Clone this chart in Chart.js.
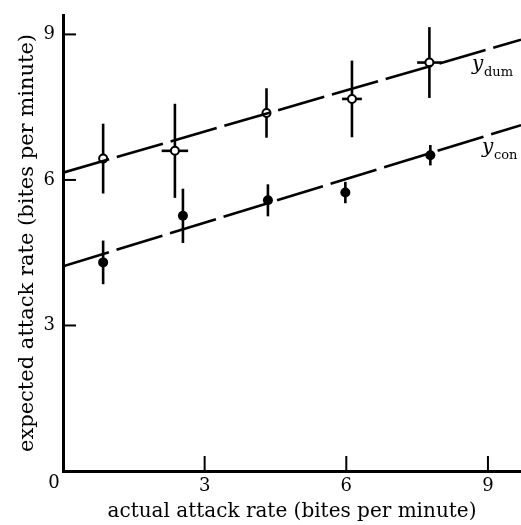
<!DOCTYPE html>
<html>
<head>
<meta charset="utf-8">
<script src="https://cdn.jsdelivr.net/npm/chart.js@4"></script>
<style>
  html, body { margin: 0; padding: 0; background: #fff; overflow: hidden; }
  #wrap { width: 521px; height: 525px; }
  #chart { display: block; }
</style>
</head>
<body>
<div id="wrap"><canvas id="chart" width="521" height="525"></canvas></div>
<script>
// Values
const xTicks = [3, 6, 9];
const yTicks = [3, 6, 9];

// dummy (open circles)
const dumX = [0.85, 2.37, 4.31, 6.12, 7.76];
const dumY = [6.44, 6.60, 7.38, 7.67, 8.42];
const dumYErr = [0.72, 0.97, 0.51, 0.79, 0.73];
const dumXErr = [0, 0.28, 0, 0.21, 0.26];

// control (filled circles)
const conX = [0.85, 2.54, 4.34, 5.98, 7.78];
const conY = [4.30, 5.26, 5.58, 5.74, 6.51];
const conYErr = [0.45, 0.56, 0.33, 0.22, 0.21];

// fitted lines, end points as drawn
const dumLineX = [0, 9.7];
const dumLineY = [6.15, 8.89];
const conLineX = [0, 9.7];
const conLineY = [4.22, 7.13];

const FONT = "'DejaVu Serif', 'Liberation Serif', serif";

function pts(xs, ys) {
    return xs.map((x, i) => ({ x: x, y: ys[i] }));
}

// error bars, inward tick marks, the origin label and line labels
const extras = {
    id: 'extras',
    beforeDatasetsDraw(chart) {
        const ctx = chart.ctx;
        const xs = chart.scales.x;
        const ys = chart.scales.y;
        ctx.save();
        ctx.strokeStyle = '#000';
        ctx.lineWidth = 2.6;
        ctx.lineCap = 'butt';
        const bars = [[dumX, dumY, dumYErr, dumXErr], [conX, conY, conYErr, null]];
        bars.forEach(([bx, by, ye, xe]) => {
            bx.forEach((x, i) => {
                const px = xs.getPixelForValue(x);
                ctx.beginPath();
                ctx.moveTo(px, ys.getPixelForValue(by[i] + ye[i]));
                ctx.lineTo(px, ys.getPixelForValue(by[i] - ye[i]));
                ctx.stroke();
                if (xe && xe[i] > 0) {
                    const py = ys.getPixelForValue(by[i]);
                    ctx.beginPath();
                    ctx.moveTo(xs.getPixelForValue(x - xe[i]), py);
                    ctx.lineTo(xs.getPixelForValue(x + xe[i]), py);
                    ctx.stroke();
                }
            });
        });

        // tick marks pointing into the plot
        ctx.lineWidth = 2;
        const y0 = ys.getPixelForValue(0);
        xTicks.forEach(v => {
            const px = xs.getPixelForValue(v);
            ctx.beginPath();
            ctx.moveTo(px, y0);
            ctx.lineTo(px, y0 - 15);
            ctx.stroke();
        });
        const x0 = xs.getPixelForValue(0);
        yTicks.forEach(v => {
            const py = ys.getPixelForValue(v);
            ctx.beginPath();
            ctx.moveTo(x0, py);
            ctx.lineTo(x0 + 13, py);
            ctx.stroke();
        });

        ctx.fillStyle = '#000';
        ctx.font = '18px ' + FONT;
        ctx.textAlign = 'center';
        ctx.textBaseline = 'top';
        ctx.fillText('0', x0 - 9, y0 + 3);

        // line labels
        ctx.textAlign = 'left';
        ctx.textBaseline = 'alphabetic';
        ctx.font = 'italic 20px ' + FONT;
        ctx.fillText('y', 472, 70);
        ctx.font = '13px ' + FONT;
        ctx.fillText('dum', 484, 76);
        ctx.font = 'italic 20px ' + FONT;
        ctx.fillText('y', 482, 153);
        ctx.font = '13px ' + FONT;
        ctx.fillText('con', 494, 159);
        ctx.restore();
    }
};

const ctx = document.getElementById('chart').getContext('2d');

new Chart(ctx, {
    type: 'scatter',
    data: {
        datasets: [
            {
                label: 'dum fit',
                data: pts(dumLineX, dumLineY),
                showLine: true,
                borderColor: '#000',
                borderWidth: 2.6,
                borderDash: [48, 8],
                pointRadius: 0,
                fill: false
            },
            {
                label: 'con fit',
                data: pts(conLineX, conLineY),
                showLine: true,
                borderColor: '#000',
                borderWidth: 2.6,
                borderDash: [48, 8],
                pointRadius: 0,
                fill: false
            },
            {
                label: 'dum',
                data: pts(dumX, dumY),
                pointRadius: 4,
                pointBorderWidth: 2,
                pointBorderColor: '#000',
                pointBackgroundColor: '#fff'
            },
            {
                label: 'con',
                data: pts(conX, conY),
                pointRadius: 5,
                pointBorderWidth: 0,
                pointBackgroundColor: '#000'
            }
        ]
    },
    options: {
        responsive: false,
        animation: false,
        layout: { autoPadding: false, padding: { top: 15, right: 0, left: 0, bottom: 0 } },
        scales: {
            x: {
                type: 'linear',
                min: 0,
                max: 9.7,
                afterBuildTicks: s => { s.ticks = xTicks.map(v => ({ value: v })); },
                afterFit: s => { s.height = 54; s.paddingLeft = 0; s.paddingRight = 0; },
                grid: { display: false, drawTicks: false },
                border: { display: true, width: 3, color: '#000' },
                ticks: {
                    color: '#000',
                    font: { family: FONT, size: 18 },
                    padding: 5,
                    maxRotation: 0
                },
                title: {
                    display: true,
                    text: 'actual attack rate (bites per minute)',
                    color: '#000',
                    font: { family: FONT, size: 20 },
                    padding: { top: 0, bottom: 1 }
                }
            },
            y: {
                type: 'linear',
                min: 0,
                max: 9.4,
                afterBuildTicks: s => { s.ticks = yTicks.map(v => ({ value: v })); },
                afterFit: s => { s.width = 63; s.paddingTop = 0; s.paddingBottom = 0; },
                grid: { display: false, drawTicks: false },
                border: { display: true, width: 3, color: '#000' },
                ticks: {
                    color: '#000',
                    font: { family: FONT, size: 18 },
                    padding: 8
                },
                title: {
                    display: true,
                    text: 'expected attack rate (bites per minute)',
                    color: '#000',
                    font: { family: FONT, size: 21 },
                    padding: { top: 15, bottom: 0 }
                }
            }
        },
        plugins: {
            legend: { display: false },
            tooltip: { enabled: false }
        }
    },
    plugins: [extras]
});
</script>
</body>
</html>
